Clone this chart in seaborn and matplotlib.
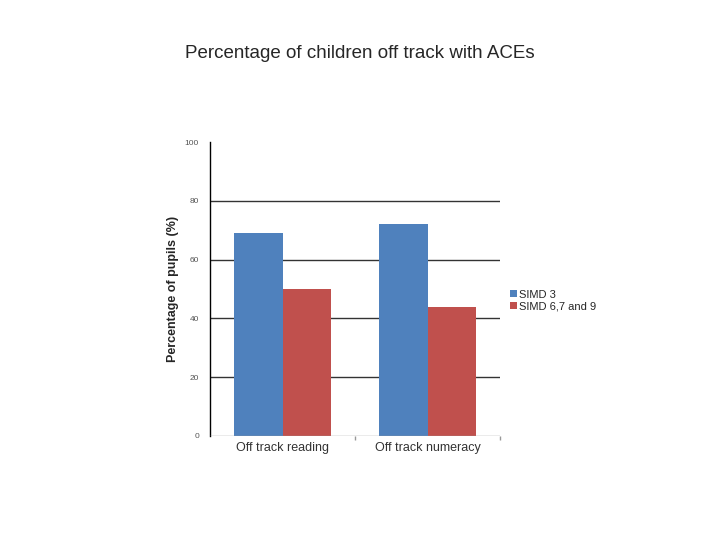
import pandas as pd
import seaborn as sns
import matplotlib
matplotlib.use("Agg")
import matplotlib.pyplot as plt

categories = ["Off track reading", "Off track numeracy"]
groups = ["SIMD 3", "SIMD 6,7 and 9"]
simd3 = [69, 72]
simd679 = [50, 44]

df = pd.DataFrame({
    "category": categories * 2,
    "group": [groups[0]] * 2 + [groups[1]] * 2,
    "value": simd3 + simd679,
})

sns.set_style("white")
plt.rcParams["font.family"] = ["Liberation Sans", "DejaVu Sans"]

fig = plt.figure(figsize=(7.2, 5.4), dpi=100)
ax = fig.add_axes([0.2917, 0.1926, 0.4028, 0.5444])

sns.barplot(data=df, x="category", y="value", hue="group", order=categories,
            hue_order=groups, palette=["#4F81BD", "#C0504D"], width=0.67,
            saturation=1, linewidth=0, ax=ax, zorder=3)

ax.set_ylim(0, 100)
ax.set_yticks([0, 20, 40, 60, 80, 100])
ax.set_xlim(-0.5, 1.5)
for y in [20, 40, 60, 80]:
    ax.axhline(y, color="#333333", lw=1.0, zorder=1)
ax.axhline(0, color="#999999", lw=1.0, zorder=4)

for s in ["top", "right", "bottom"]:
    ax.spines[s].set_visible(False)
ax.spines["left"].set_color("black")
ax.spines["left"].set_linewidth(1.0)

# small separators under the axis between categories
ax.set_xticks([0.5, 1.5], minor=True)
ax.tick_params(axis="x", which="minor", bottom=True, length=3, width=1,
               color="#999999", direction="out")

ax.tick_params(axis="y", labelsize=6, colors="#555555", length=0, pad=8)
ax.tick_params(axis="x", which="major", labelsize=9, colors="#333333", length=0, pad=4)
ax.set_xlabel("")
ax.set_ylabel("Percentage of pupils (%)", fontsize=9, fontweight="bold", labelpad=4)

ax.legend(loc="center left", bbox_to_anchor=(1.02, 0.46), frameon=False,
          fontsize=8, handlelength=0.6, handleheight=0.6, handletextpad=0.2,
          labelspacing=0.2, borderaxespad=0)

fig.text(0.5, 0.9, "Percentage of children off track with ACEs",
         ha="center", va="center", fontsize=13.5, family=["Liberation Sans", "DejaVu Sans"])

fig.savefig("out.png", dpi=100)
